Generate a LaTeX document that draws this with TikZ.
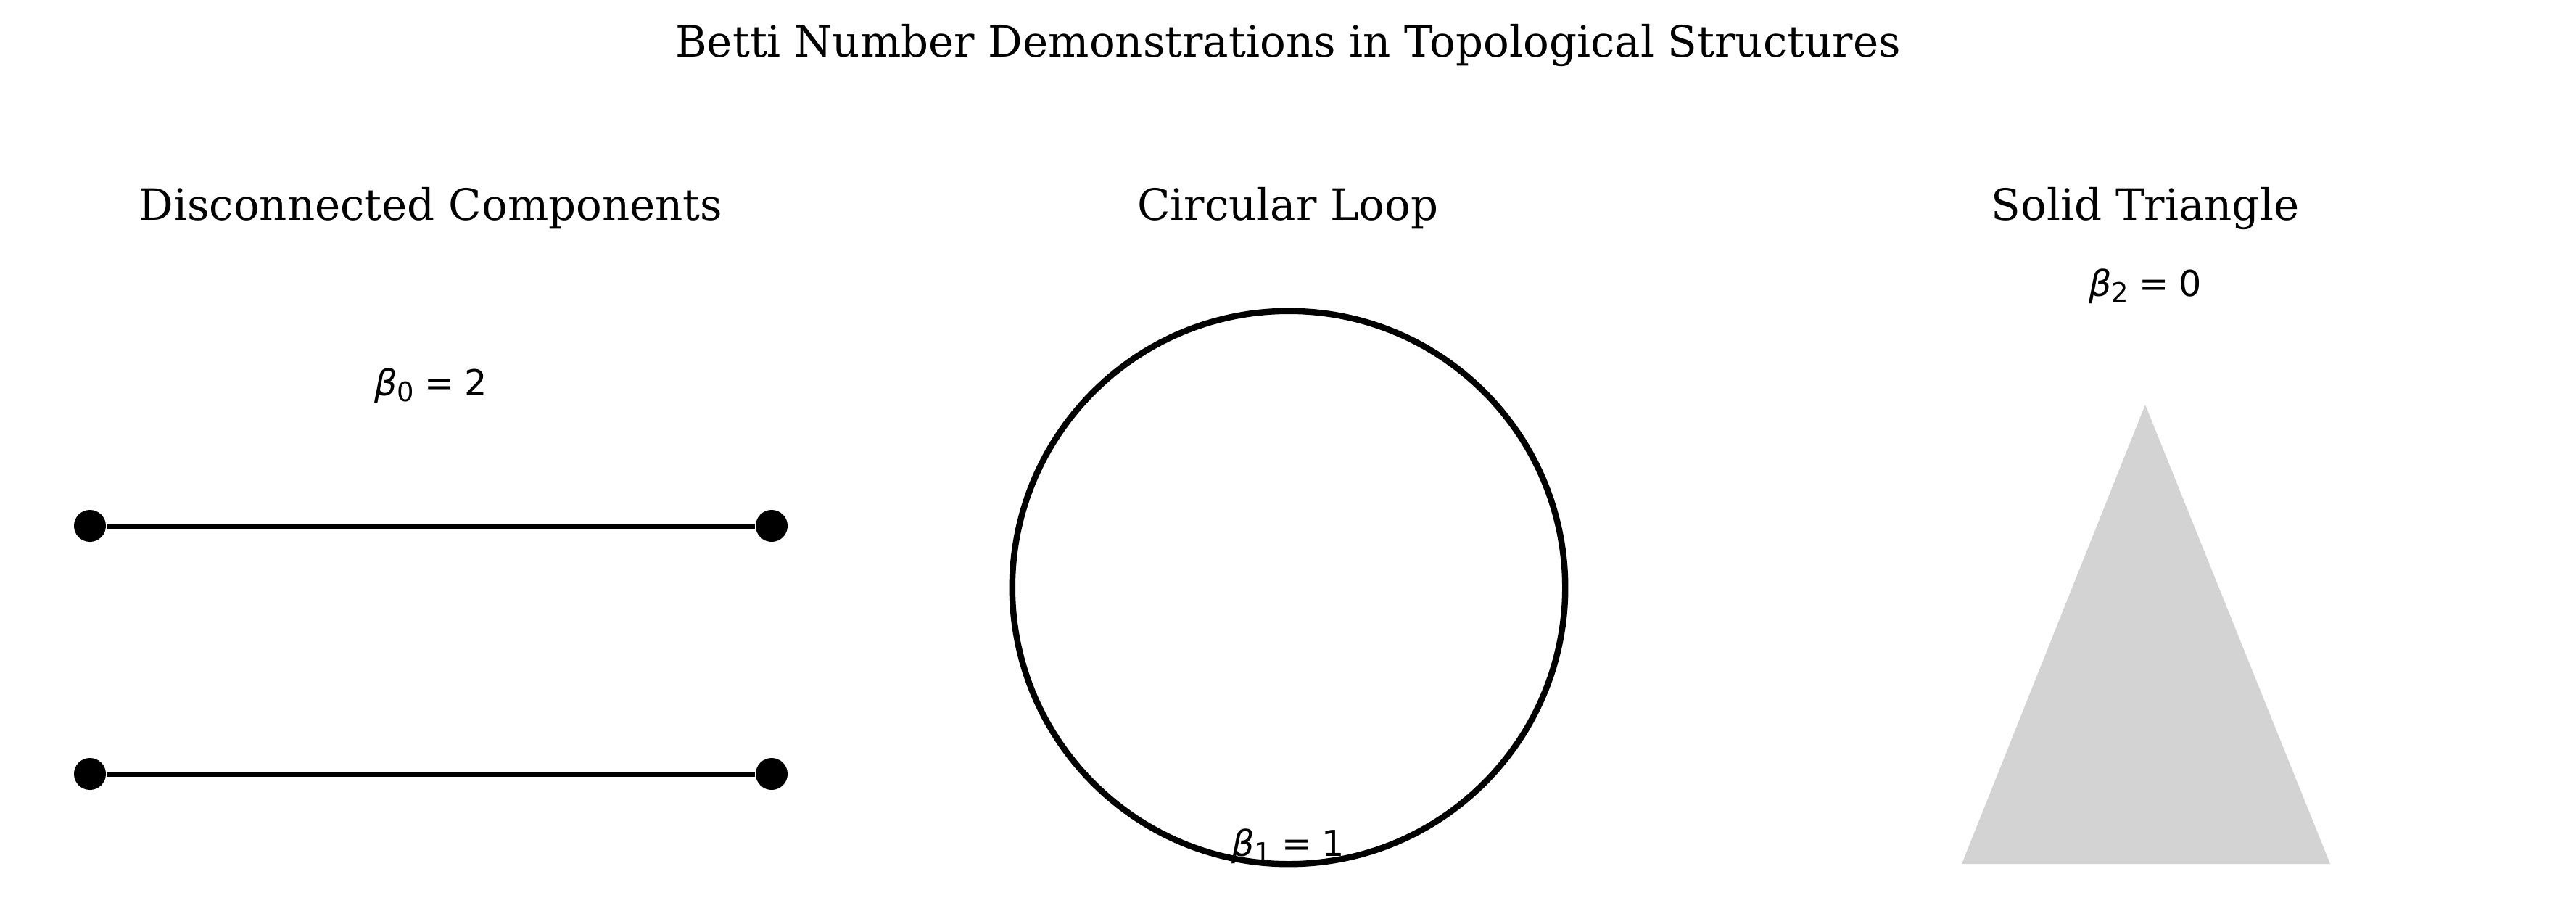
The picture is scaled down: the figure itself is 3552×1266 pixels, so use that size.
\documentclass[tikz,border=0pt]{standalone}
\usepackage{fontspec}
\usepackage{tikz}
\usetikzlibrary{positioning}
\setmainfont{DejaVu Serif}
\newfontfamily\bettifont{DejaVu Sans}
\definecolor{solidgray}{RGB}{211, 211, 211}
\newcommand{\bettilabel}[2]{{\bettifont\fontsize{14}{16}\selectfont\itshape β\upshape\raisebox{-0.3ex}{\fontsize{10.5}{10}\selectfont #1}\hspace{0.28em}=\hspace{0.28em}#2}}
\tikzset{
    headtext/.style={anchor=base, inner sep=0pt, font=\fontsize{16.9}{20}\selectfont},
    bettitext/.style={anchor=base, inner sep=0pt},
    vertex/.style={circle, fill=black, inner sep=0pt, minimum size=0.44cm},
    edge/.style={line width=2pt, black},
}

\begin{document}
\begin{tikzpicture}[x=0.01cm, y=-0.01cm]
    \useasboundingbox (0,0) rectangle (3552,1266);

    % titles
    \node[headtext] (title) at (1776,78) {Betti Number Demonstrations in Topological Structures};
    \node[headtext] (compTitle) at (594,303) {Disconnected Components};
    \node[headtext] (loopTitle) at (1776,303) {Circular Loop};
    \node[headtext] (triTitle) at (2958,303) {Solid Triangle};

    % two components
    \node[bettitext] (bettiZero) at (594,545) {\bettilabel{0}{2}};
    \node[vertex] (aLeft) at (124,725) {};
    \node[vertex] (aRight) at (1064,725) {};
    \node[vertex] (bLeft) at (124,1067) {};
    \node[vertex] (bRight) at (1064,1067) {};
    \draw[edge] (aLeft) -- (aRight);
    \draw[edge] (bLeft) -- (bRight);

    % loop
    \node[circle, draw=black, line width=2.4pt, inner sep=0pt, minimum size=7.62cm] (loop) at (1777,810) {};
    \node[bettitext] (bettiOne) at (1776,1180) {\bettilabel{1}{1}};

    % filled triangle
    \node[bettitext] (bettiTwo) at (2958,408) {\bettilabel{2}{0}};
    \fill[solidgray] (2705,1191) -- (2958,558) -- (3213,1191) -- cycle;
\end{tikzpicture}
\end{document}
